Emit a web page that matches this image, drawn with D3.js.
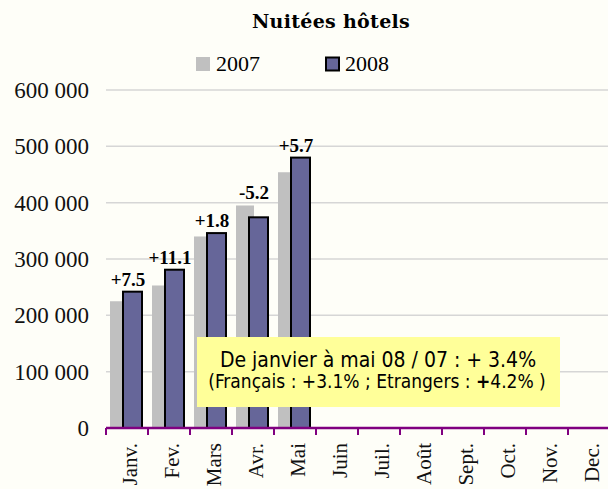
<!DOCTYPE html>
<html>
<head>
<meta charset="utf-8">
<script src="https://cdn.jsdelivr.net/npm/d3@7"></script>
<style>
  body { margin: 0; background: #fefef8; }
  svg { display: block; }
</style>
</head>
<body>
<div id="chart"></div>
<script>
// data
const months = ["Janv.", "Fev.", "Mars", "Avr.", "Mai", "Juin", "Juil.", "Août", "Sept.", "Oct.", "Nov.", "Dec."];
const v2007 = [225000, 253000, 340000, 395000, 454000];
const v2008 = [242000, 281000, 346000, 374000, 480000];
const changes = ["+7.5", "+11.1", "+1.8", "-5.2", "+5.7"];
const yTicks = [0, 100000, 200000, 300000, 400000, 500000, 600000];

const W = 608, H = 489;
const svg = d3.select("#chart").append("svg")
  .attr("width", W).attr("height", H);

svg.append("rect").attr("width", W).attr("height", H).attr("fill", "#fefef8");

const x = d3.scaleBand().domain(months).range([106, 610]).paddingInner(0).paddingOuter(0);
const y = d3.scaleLinear().domain([0, 600000]).range([428, 90]);

const fmt = d => d3.format(",")(d).replace(/,/g, " ");

// gridlines
svg.append("g")
  .selectAll("line")
  .data(yTicks.filter(d => d > 0))
  .join("line")
    .attr("x1", 106).attr("x2", W)
    .attr("y1", d => y(d)).attr("y2", d => y(d))
    .attr("stroke", "#d6d6d6").attr("stroke-width", 1.5);

// y labels
svg.append("g")
  .selectAll("text")
  .data(yTicks)
  .join("text")
    .attr("x", 89).attr("y", d => y(d)).attr("dy", "0.35em")
    .attr("text-anchor", "end")
    .style("font-family", "'Liberation Serif', serif").style("font-size", "23px")
    .attr("fill", "#111")
    .text(fmt);

// bars 2007
svg.append("g")
  .selectAll("rect")
  .data(v2007)
  .join("rect")
    .attr("x", (d, i) => x(months[i]) + 4)
    .attr("width", 18)
    .attr("y", d => y(d))
    .attr("height", d => y(0) - y(d))
    .attr("fill", "#c0c0c0");

// bars 2008
svg.append("g")
  .selectAll("rect")
  .data(v2008)
  .join("rect")
    .attr("x", (d, i) => x(months[i]) + 17)
    .attr("width", 19)
    .attr("y", d => y(d))
    .attr("height", d => y(0) - y(d))
    .attr("fill", "#666699")
    .attr("stroke", "#000").attr("stroke-width", 2);

// change labels
svg.append("g")
  .selectAll("text")
  .data(changes)
  .join("text")
    .attr("x", (d, i) => x(months[i]) + x.bandwidth() / 2 + 1)
    .attr("y", (d, i) => y(Math.max(v2007[i], v2008[i])) - 6)
    .attr("text-anchor", "middle")
    .style("font-family", "'Liberation Serif', 'Times New Roman', serif").style("font-size", "19px")
    .style("font-weight", "bold")
    .text(d => d);

// x axis (purple), ticks between months
const ax = svg.append("g");
ax.append("line")
  .attr("x1", 106).attr("x2", W).attr("y1", 428).attr("y2", 428)
  .attr("stroke", "#800080").attr("stroke-width", 2.5);
ax.selectAll(".tk")
  .data(months)
  .join("line")
    .attr("class", "tk")
    .attr("x1", d => x(d)).attr("x2", d => x(d))
    .attr("y1", 428).attr("y2", 435)
    .attr("stroke", "#800080").attr("stroke-width", 2);
ax.selectAll("text")
  .data(months)
  .join("text")
    .attr("transform", d => `translate(${x(d) + x.bandwidth() / 2 + 3},443) rotate(-90)`)
    .attr("dy", "0.35em")
    .attr("text-anchor", "end")
    .style("font-family", "'Liberation Serif', serif").style("font-size", "21px")
    .attr("fill", "#111")
    .text(d => d);

// title
svg.append("text")
  .attr("x", 331).attr("y", 28)
  .attr("text-anchor", "middle")
  .style("font-family", "'DejaVu Serif', serif").style("font-size", "19px")
  .style("font-weight", "bold")
  .style("letter-spacing", "0.3px")
  .text("Nuitées hôtels");

// legend
const leg = svg.append("g").style("font-family", "'Liberation Serif', serif").style("font-size", "22px");
leg.append("rect").attr("x", 196).attr("y", 57).attr("width", 14).attr("height", 14).attr("fill", "#c0c0c0");
leg.append("text").attr("x", 216).attr("y", 71).text("2007");
leg.append("rect").attr("x", 326).attr("y", 57.5).attr("width", 13).attr("height", 13)
  .attr("fill", "#666699").attr("stroke", "#000").attr("stroke-width", 2);
leg.append("text").attr("x", 345).attr("y", 71).text("2008");

// annotation box
const note = svg.append("g");
note.append("rect").attr("x", 197).attr("y", 337).attr("width", 363).attr("height", 70).attr("fill", "#ffff99");
note.append("text")
  .attr("x", 378).attr("y", 367).attr("text-anchor", "middle")
  .style("font-family", "'DejaVu Sans Condensed', 'DejaVu Sans', sans-serif").style("font-size", "21px")
  .text("De janvier à mai 08 / 07 : + 3.4%");
const t2 = note.append("text")
  .attr("x", 377).attr("y", 388).attr("text-anchor", "middle")
  .style("font-family", "'DejaVu Sans Condensed', 'DejaVu Sans', sans-serif").style("font-size", "19px");
t2.append("tspan").text("(Français : +3.1% ; Etrangers : ");
t2.append("tspan").style("font-weight", "bold").text("+");
t2.append("tspan").text("4.2% )");
</script>
</body>
</html>
